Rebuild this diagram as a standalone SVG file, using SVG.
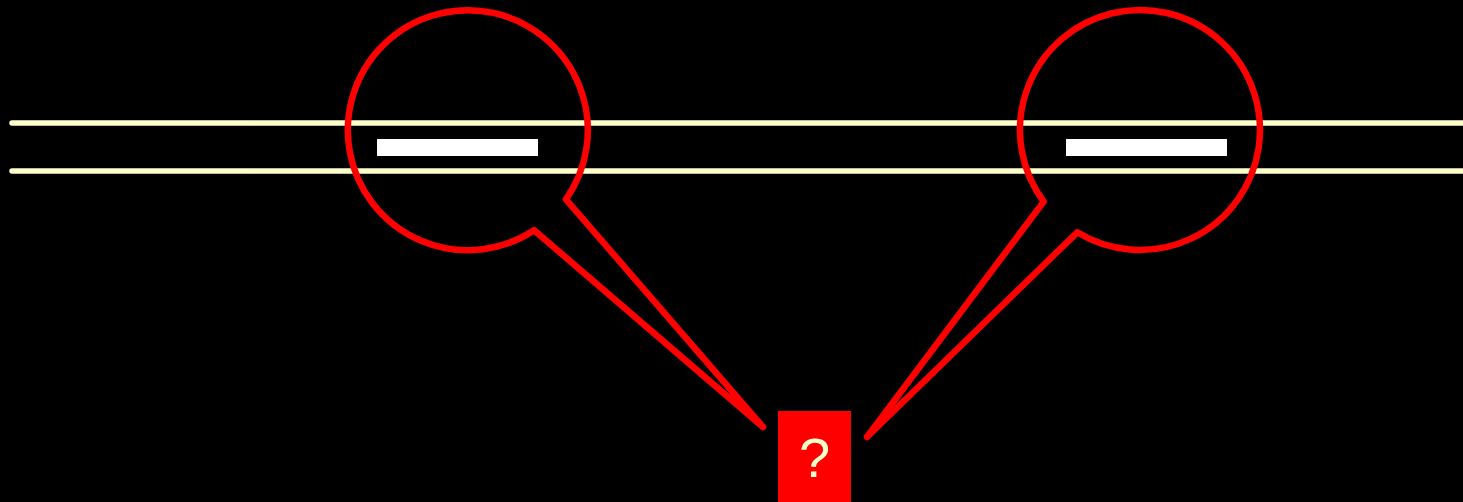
<svg xmlns="http://www.w3.org/2000/svg" width="1463" height="502" viewBox="0 0 1463 502">
  <defs>
    <style>
      .rail { stroke: #FFFFCC; stroke-width: 5.5; stroke-linecap: round; fill: none; }
      .bubble { stroke: #FF0000; stroke-width: 6.5; fill: none; stroke-linejoin: round; stroke-linecap: round; }
      .mark { fill: #FFFFFF; }
      .qbox { fill: #FF0000; }
      .qtext { fill: #FFFFCC; font-family: "Liberation Sans", Arial, sans-serif; font-size: 56px; text-anchor: middle; }
    </style>
  </defs>
  <rect x="0" y="0" width="1463" height="502" fill="#000000"/>
  <g id="rails">
    <line class="rail" x1="12" y1="123" x2="1470" y2="123"/>
    <line class="rail" x1="12" y1="171" x2="1470" y2="171"/>
  </g>
  <g id="marks">
    <rect class="mark" x="377" y="139" width="161" height="17"/>
    <rect class="mark" x="1066" y="139" width="161" height="17"/>
  </g>
  <g id="connectors">
    <path id="callout-left" class="bubble" d="M534.1,230.2 A120,120 0 1 1 565.9,199.3 L763,427 Z"/>
    <path id="callout-right" class="bubble" d="M1043.7,201.6 A120,120 0 1 1 1077.3,232.3 L867,437 Z"/>
  </g>
  <g id="node-question">
    <rect class="qbox" x="778" y="411" width="73" height="95"/>
    <text class="qtext" x="814.5" y="477">?</text>
  </g>
</svg>
